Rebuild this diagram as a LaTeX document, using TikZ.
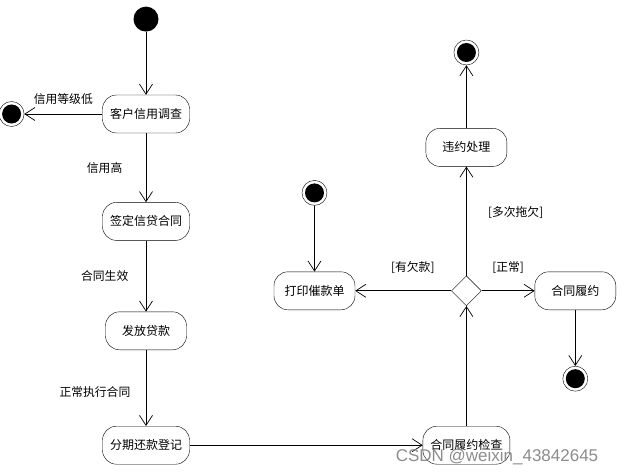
\documentclass[tikz,border=0pt]{standalone}
\usepackage{fontspec}
\setmainfont{Noto Sans CJK SC}
\setsansfont{Liberation Sans}
\usetikzlibrary{shapes.geometric, arrows.meta, positioning}

\begin{document}
\begin{tikzpicture}[x=1pt, y=1pt, auto, >={Straight Barb[length=10pt, width=13pt]},
		state/.style={rectangle, draw, rounded corners=14pt, minimum width=81pt, minimum height=38pt, inner xsep=7.5pt, font=\fontsize{12}{14}\selectfont},
		decision/.style={diamond, draw, minimum width=30pt, minimum height=30pt, inner sep=0pt},
		initial/.style={circle, fill=black, minimum size=25pt, inner sep=0pt},
		final/.style={circle, draw, minimum size=25pt, inner sep=0pt, path picture={\fill (path picture bounding box.center) circle (9.5pt);}},
		guard/.style={font=\fontsize{11.8}{13}\selectfont},
		line/.style={draw, ->, line width=0.7pt}]
		
		\useasboundingbox (0,0) rectangle (629,475);
		
		\node [state] (credit) at (146,361) {客户信用调查};
		\node [initial, above=63pt of credit] (start) {};
		\node [final, left=78pt of credit] (reject) {};
		\node [state, below=69pt of credit] (sign) {签定信贷合同};
		\node [state, below=71pt of sign] (loan) {发放贷款};
		\node [state, below=76pt of loan] (repay) {分期还款登记};
		\node [state, right=233pt of repay] (check) {合同履约检查};
		\node [decision, above=120pt of check] (judge) {};
		\node [state, left=96pt of judge] (notice) {打印催款单};
		\node [final, above=66pt of notice] (noticestart) {};
		\node [state, above=109pt of judge] (breach) {违约处理};
		\node [final, above=63pt of breach] (breachend) {};
		\node [state, right=53pt of judge] (perform) {合同履约};
		\node [final, below=56pt of perform] (performend) {};
		
		% Liens
		\path [line] (start) -- (credit);
		\path [line] (credit) -- node [guard, above=6pt] {信用等级低} (reject);
		\path [line] (credit) -- node [guard, left=20pt] {信用高} (sign);
		\path [line] (sign) -- node [guard, left=14pt] {合同生效} (loan);
		\path [line] (loan) -- node [guard, left=12pt, pos=0.55] {正常执行合同} (repay);
		\path [line] (repay) -- (check);
		\path [line] (check) -- (judge);
		\path [line] (judge) -- node [guard, above=14pt, pos=0.4] {[有欠款]} (notice);
		\path [line] (noticestart) -- (notice);
		\path [line] (judge) -- node [guard, right=18pt, pos=0.58] {[多次拖欠]} (breach);
		\path [line] (breach) -- (breachend);
		\path [line] (judge) -- node [guard, above=14pt] {[正常]} (perform);
		\path [line] (perform) -- (performend);
		
		\node [font=\sffamily\fontsize{17}{19}\selectfont, text=black!45] (mark) at (497,18) {CSDN @weixin\_43842645};
		
	\end{tikzpicture}
\end{document}
